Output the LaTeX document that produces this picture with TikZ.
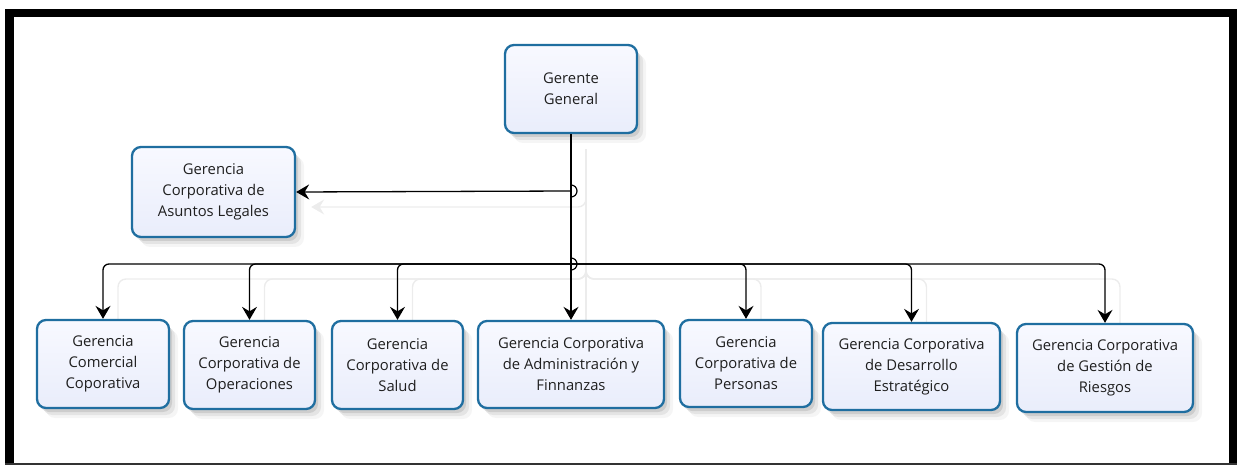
\documentclass[tikz,border=0pt]{standalone}
\usepackage{fontspec}
\setsansfont{Open Sans}
\usetikzlibrary{arrows.meta,shadows,calc}
\pgfdeclarelayer{bg}
\pgfsetlayers{bg,main}

\definecolor{boxblue}{RGB}{31,110,160}
\definecolor{boxtop}{RGB}{248,249,255}
\definecolor{boxbot}{RGB}{233,237,251}
\definecolor{ghost}{RGB}{236,236,236}

\tikzset{
  softshadow/.style={
    drop shadow={shadow xshift=3pt, shadow yshift=-4pt, opacity=.10, fill=black},
    drop shadow={shadow xshift=6pt, shadow yshift=-7pt, opacity=.07, fill=black},
    drop shadow={shadow xshift=9pt, shadow yshift=-10pt, opacity=.04, fill=black}},
  orgbox/.style={softshadow, draw=boxblue, line width=2.3pt, rounded corners=9pt,
    top color=boxtop, bottom color=boxbot, align=center, text=black!88,
    font=\sffamily\fontsize{14.8}{21}\selectfont, inner sep=2pt},
  wire/.style={draw=black, line width=1.3pt, rounded corners=6pt,
    -{Stealth[length=13pt, width=15pt, inset=4.5pt]}},
  hop/.style={draw=black, line width=1.2pt},
  ghostwire/.style={draw=ghost, line width=1.4pt, rounded corners=8pt,
    -{Stealth[length=13pt, width=15pt, inset=4.5pt]},
    transform canvas={shift={(15pt,-15pt)}}},
  frame/.style={fill=black}
}

\begin{document}
\begin{tikzpicture}[x=1pt, y=-1pt]
\useasboundingbox (0,0) rectangle (1237,465);

% outer frame
\fill[frame] (5,9) rectangle (14,465);
\fill[frame] (5,9) rectangle (1237,17);
\fill[frame] (1229,9) rectangle (1237,465);
\fill[black!80] (5,462.5) rectangle (1237,465);

% boxes
\node[orgbox, minimum width=132pt, minimum height=88pt] (gg) at (571,89) {Gerente\\General};
\node[orgbox, minimum width=163pt, minimum height=90pt] (al) at (213.5,192) {Gerencia\\Corporativa de\\Asuntos Legales};

\node[orgbox, minimum width=132pt, minimum height=88pt] (b1) at (103,364) {Gerencia\\Comercial\\Coporativa};
\node[orgbox, minimum width=131pt, minimum height=88pt] (b2) at (249.5,365) {Gerencia\\Corporativa de\\Operaciones};
\node[orgbox, minimum width=131pt, minimum height=88pt] (b3) at (397.5,365) {Gerencia\\Corporativa de\\Salud};
\node[orgbox, minimum width=186pt, minimum height=87pt] (b4) at (571,364.5) {Gerencia Corporativa\\de Administración y\\Finnanzas};
\node[orgbox, minimum width=132pt, minimum height=87pt] (b5) at (746,363.5) {Gerencia\\Corporativa de\\Personas};
\node[orgbox, minimum width=177pt, minimum height=87pt] (b6) at (911.5,366.5) {Gerencia Corporativa\\de Desarrollo\\Estratégico};
\node[orgbox, minimum width=176pt, minimum height=88pt] (b7) at (1105,368) {Gerencia Corporativa\\de Gestión de\\Riesgos};

% junction points on the trunk
\coordinate (j1) at (571,191);
\coordinate (j2) at (571,264);

% faint trailing copies of the connectors
\begin{pgfonlayer}{bg}
  \draw[ghostwire] (gg.south) |- (al.east);
  \foreach \b in {b1,b2,b3,b5,b6,b7}
    \draw[ghostwire] (gg.south) -- (j2) -| (\b.north);
  \draw[ghostwire] (gg.south) -- (b4.north);
\end{pgfonlayer}

% connectors
\draw[wire] (gg.south) -- (b4.north);
\draw[wire] (j1) -- (al.east);
\foreach \b in {b1,b2,b3,b5,b6,b7}
  \draw[wire] (j2) -| (\b.north);

% line hops at the junctions
\draw[hop] ($(j1)+(0,-6)$) arc[start angle=-90, end angle=90, radius=6];
\draw[hop] ($(j2)+(0,-6)$) arc[start angle=-90, end angle=90, radius=6];
\end{tikzpicture}
\end{document}
